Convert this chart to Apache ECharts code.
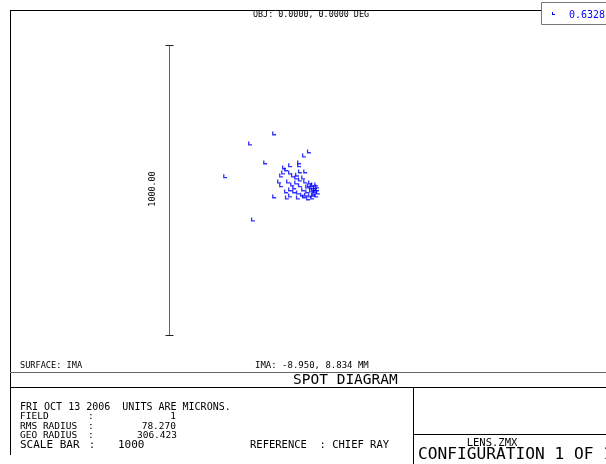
<!DOCTYPE html>
<html>
<head>
<meta charset="utf-8">
<script src="https://cdn.jsdelivr.net/npm/echarts@6/dist/echarts.min.js"></script>
<style>
html,body{margin:0;padding:0;background:#fff;}
#chart{width:606px;height:464px;}
</style>
</head>
<body>
<div id="chart"></div>
<script>
// ---- data (microns, relative to plot centre) ----
const spotX = [-79,-162,-110,-248,-79,-152,41,24,7,7,-24,-38,-48,-55,-62,-55,-35,
  -45,-24,-14,-3,10,21,28,45,55,35,48,62,69,-31,-17,-3,10,21,35,48,62,69,-38,-24,-10,3,17,31,45,55,-24,3,24,38,52,-10,10,28,0,55,66,41,59,66,72,52,62];
const spotY = [195,160,95,47,-22,-102,133,119,95,85,85,71,60,50,29,16,-26,
  78,60,50,43,36,43,29,26,19,12,9,9,12,29,19,26,16,2,-5,-2,-5,2,-5,2,-5,-9,-16,-16,-19,-16,-19,-26,-22,-29,-26,9,64,64,53,2,19,16,-12,-19,-9,16,2];
const scaleBarX = -441;
const scaleBarLength = 1000;
const scaleBarLabel = '1000.00';
const wavelengths = ['0.6328'];
const titleText = 'OBJ: 0.0000, 0.0000 DEG';
const surfaceText = 'SURFACE: IMA';
const imaText = 'IMA: -8.950, 8.834 MM';
const plotTitle = 'SPOT DIAGRAM';
const dateLine = 'FRI OCT 13 2006  UNITS ARE MICRONS.';
const infoLabels = ['FIELD', 'RMS RADIUS', 'GEO RADIUS'];
const infoValues = ['1', '78.270', '306.423'];
const scaleBarText = ['SCALE BAR', '1000'];
const referenceText = 'REFERENCE  : CHIEF RAY';
const lensFile = 'LENS.ZMX';
const configText = 'CONFIGURATION 1 OF 1';

const chart = echarts.init(document.getElementById('chart'), null, {renderer: 'canvas'});
const FONT = '"DejaVu Sans Mono", monospace';
const spots = spotX.map((x, i) => [x, spotY[i]]);
const lspot = 'path://M0,0L0,3L3,3L3,2L1,2L1,0Z';

function txt(x, y, s, size, opts) {
  const el = {
    type: 'text', x: x, y: y, silent: true,
    style: Object.assign({text: s, font: size + 'px ' + FONT, fill: '#000',
      textAlign: 'left', textVerticalAlign: 'middle'}, (opts && opts.style) || {})
  };
  if (opts && opts.rotation !== undefined) el.rotation = opts.rotation;
  return el;
}
function ln(x1, y1, x2, y2, c) {
  return {type: 'line', shape: {x1: x1, y1: y1, x2: x2, y2: y2},
    style: {stroke: c || '#000', lineWidth: 1}, silent: true};
}

const graphics = [
  ln(10, 10.5, 541, 10.5),
  ln(10.5, 10, 10.5, 455),
  ln(10, 372.5, 606, 372.5, '#666'),
  ln(10, 387.5, 606, 387.5),
  ln(413.5, 387, 413.5, 464),
  ln(413, 434.5, 606, 434.5),
  {type: 'rect', silent: true, shape: {x: 541.5, y: 2.5, width: 70, height: 22},
    style: {fill: '#fff', stroke: '#777', lineWidth: 1}},
  {type: 'polygon', silent: true, shape: {points: [[552,12],[552,15],[555,15],[555,14],[553,14],[553,12]]}, style: {fill: '#0000ff'}},
  txt(569, 15.5, wavelengths[0], 10, {style: {fill: '#0000ff'}}),
  txt(311, 14.5, titleText, 8.4, {style: {textAlign: 'center'}}),
  txt(153, 189, scaleBarLabel, 8.4, {rotation: Math.PI / 2, style: {textAlign: 'center'}}),
  txt(20, 366, surfaceText, 8.6),
  txt(255, 366, imaText, 9),
  txt(293, 380, plotTitle, 14.5),
  txt(20, 407, dateLine, 10),
  txt(20, 445, scaleBarText[0], 11),
  txt(89, 445, ':', 10),
  txt(118, 445, scaleBarText[1], 11),
  txt(250, 445, referenceText, 10.5),
  txt(492, 443, lensFile, 10.5, {style: {textAlign: 'center'}}),
  txt(418, 455, configText, 16.2)
];
const infoY = [417, 427, 436];
const infoRight = [176, 176, 177];
infoLabels.forEach((l, i) => {
  graphics.push(txt(20, infoY[i], l, 9.5));
  graphics.push(txt(88, infoY[i], ':', 9.5));
  graphics.push(txt(infoRight[i], infoY[i], infoValues[i], 9.5, {style: {textAlign: 'right'}}));
});

const option = {
  backgroundColor: '#fff',
  animation: false,
  grid: {left: 10, top: 10, width: 596, height: 362},
  xAxis: {type: 'value', min: -989.7, max: 1065.5, show: false},
  yAxis: {type: 'value', min: -627.6, max: 620.7, show: false},
  series: [
    {
      type: 'custom',
      data: [[scaleBarX, -scaleBarLength / 2, scaleBarLength / 2]],
      renderItem: function (params, api) {
        const top = api.coord([api.value(0), api.value(2)]);
        const bot = api.coord([api.value(0), api.value(1)]);
        const x = Math.round(top[0]) + 0.5;
        return {type: 'group', children: [
          {type: 'line', shape: {x1: x, y1: top[1], x2: x, y2: bot[1]}, style: {stroke: '#666', lineWidth: 1}},
          {type: 'line', shape: {x1: x - 4, y1: Math.round(top[1]) + 0.5, x2: x + 4, y2: Math.round(top[1]) + 0.5}, style: {stroke: '#222', lineWidth: 1}},
          {type: 'line', shape: {x1: x - 4, y1: Math.round(bot[1]) + 0.5, x2: x + 4, y2: Math.round(bot[1]) + 0.5}, style: {stroke: '#222', lineWidth: 1}}
        ]};
      }
    },
    {
      type: 'scatter',
      data: spots,
      symbol: lspot,
      symbolSize: [4, 4],
      itemStyle: {color: '#0000ff'},
      silent: true
    }
  ],
  graphic: graphics
};
chart.setOption(option);
</script>
</body>
</html>
